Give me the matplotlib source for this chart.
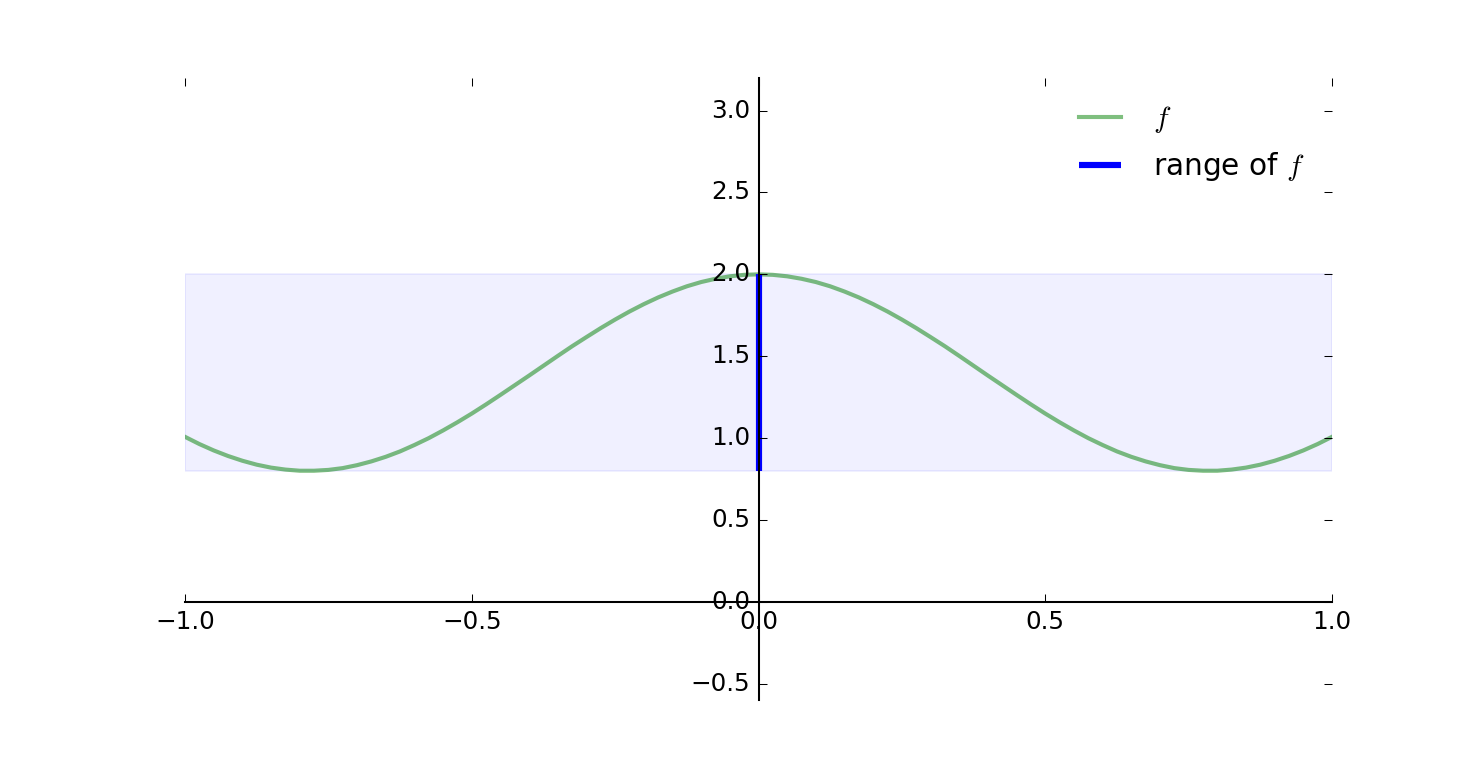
import matplotlib
matplotlib.use("Agg")
from matplotlib import pyplot as plt

# f, x from -1 to 1
x_vals = [-1.000, -0.975, -0.950, -0.925, -0.900, -0.875, -0.850, -0.825, -0.800, -0.775,
          -0.750, -0.725, -0.700, -0.675, -0.650, -0.625, -0.600, -0.575, -0.550, -0.525,
          -0.500, -0.475, -0.450, -0.425, -0.400, -0.375, -0.350, -0.325, -0.300, -0.275,
          -0.250, -0.225, -0.200, -0.175, -0.150, -0.125, -0.100, -0.075, -0.050, -0.025,
          0.000,
          0.025, 0.050, 0.075, 0.100, 0.125, 0.150, 0.175, 0.200, 0.225, 0.250,
          0.275, 0.300, 0.325, 0.350, 0.375, 0.400, 0.425, 0.450, 0.475, 0.500,
          0.525, 0.550, 0.575, 0.600, 0.625, 0.650, 0.675, 0.700, 0.725, 0.750,
          0.775, 0.800, 0.825, 0.850, 0.875, 0.900, 0.925, 0.950, 0.975, 1.000]
f_vals = [1.008, 0.964, 0.925, 0.891, 0.862, 0.838, 0.820, 0.808, 0.801, 0.801,
          0.806, 0.817, 0.835, 0.858, 0.886, 0.919, 0.958, 1.000, 1.047, 1.097,
          1.150, 1.206, 1.264, 1.323, 1.382, 1.442, 1.502, 1.561, 1.617, 1.672,
          1.724, 1.773, 1.818, 1.859, 1.895, 1.927, 1.953, 1.973, 1.988, 1.997,
          2.000,
          1.997, 1.988, 1.973, 1.953, 1.927, 1.895, 1.859, 1.818, 1.773, 1.724,
          1.672, 1.617, 1.561, 1.502, 1.442, 1.382, 1.323, 1.264, 1.206, 1.150,
          1.097, 1.047, 1.000, 0.958, 0.919, 0.886, 0.858, 0.835, 0.817, 0.806,
          0.801, 0.801, 0.808, 0.820, 0.838, 0.862, 0.891, 0.925, 0.964, 1.008]
f_min = 0.8
f_max = 2.0

plt.style.use('classic')
fig, ax = plt.subplots(figsize=(10, 778 / 148), dpi=148)

ax.plot(x_vals, f_vals, 'g-', lw=2, alpha=0.5, label='$f$')
ax.plot([0, 0], [f_min, f_max], 'b-', lw=3, solid_capstyle='butt', label='range of $f$')
ax.axhspan(f_min, f_max, color='b', alpha=0.06)

ax.set_xlim(-1, 1)
ax.set_ylim(-0.6, 3.2)

ax.spines['left'].set_position('zero')
ax.spines['bottom'].set_position('zero')
ax.spines['right'].set_color('none')
ax.spines['top'].set_color('none')

ax.legend(loc='upper right', frameon=False)

fig.savefig('out.png', dpi=148)
